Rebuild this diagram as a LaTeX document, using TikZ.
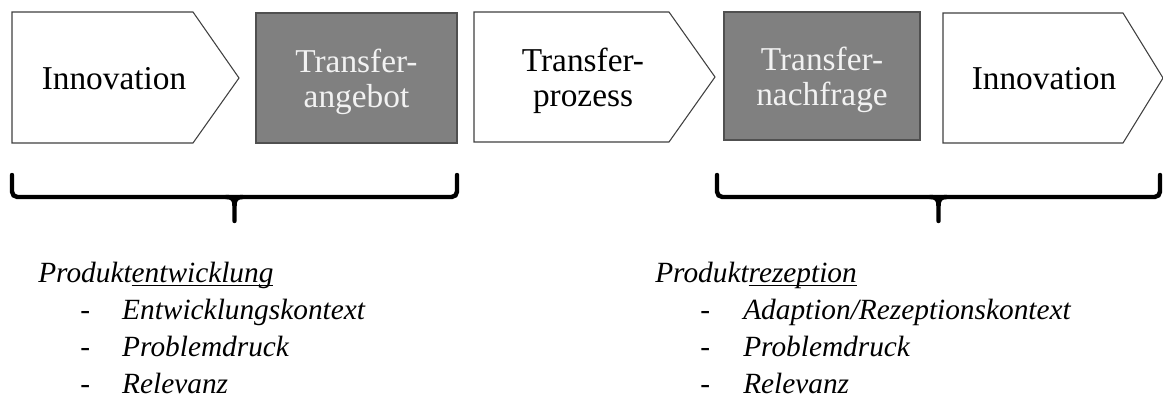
\documentclass[tikz,border=0pt]{standalone}
\usepackage{fontspec}
\setmainfont{Liberation Serif}
\definecolor{boxgray}{RGB}{128,128,128}
\definecolor{boxedge}{RGB}{80,80,80}
\definecolor{chevedge}{RGB}{64,64,64}
\definecolor{boxtext}{RGB}{242,242,242}
\newcommand{\unterstr}[1]{\underline{\smash{#1}}}

\begin{document}
\begin{tikzpicture}[x=0.75pt,y=-0.75pt,
  chevron/.style={draw=chevedge,fill=white,line width=0.8pt,line join=miter},
  stage/.style={font=\fontsize{25}{26}\selectfont,align=center,
    inner sep=0pt,text depth=0pt},
  greybox/.style={stage,draw=boxedge,fill=boxgray,line width=0.9pt,
    text=boxtext},
  bracket/.style={line width=3.3pt,line cap=round,rounded corners=4pt},
  liste/.style={font=\fontsize{22}{22}\selectfont\itshape,anchor=base west,
    inner sep=0pt}]
  \useasboundingbox (0,0) rectangle (1163,398);
  % obere Reihe
  \draw[chevron] (12,12) -- (193,12) -- (239,78) -- (193,143) -- (12,143) -- cycle;
  \node[stage](inno1) at (114,78){Innovation};
  \node[greybox,minimum width=150.75pt,minimum height=97.5pt](angebot)
    at (356.5,78){Transfer-\\angebot};
  \draw[chevron] (474,12) -- (669,12) -- (715,77) -- (669,142) -- (474,142) -- cycle;
  \node[stage](prozess) at (583,77){Transfer-\\prozess};
  \node[greybox,minimum width=147pt,minimum height=96pt](nachfrage)
    at (822,76){Transfer-\\nachfrage};
  \draw[chevron] (943,13) -- (1123,13) -- (1163,78) -- (1123,143) -- (943,143) -- cycle;
  \node[stage](inno2) at (1044,78){Innovation};
  % Klammern
  \coordinate (k1l) at (12,175);
  \coordinate (k1r) at (457,175);
  \coordinate (k1m) at (234.5,221);
  \draw[bracket] (k1l) |- (k1r |- 197,197) -- (k1r);
  \draw[line width=3.3pt,line cap=round] (226,197) .. controls (233,197) and (234.5,200) .. (234.5,206) -- (k1m);
  \draw[line width=3.3pt] (243,197) .. controls (236,197) and (234.5,200) .. (234.5,206);
  \coordinate (k2l) at (717,175);
  \coordinate (k2r) at (1160,175);
  \coordinate (k2m) at (938.5,221);
  \draw[bracket] (k2l) |- (k2r |- 197,197) -- (k2r);
  \draw[line width=3.3pt,line cap=round] (930,197) .. controls (937,197) and (938.5,200) .. (938.5,206) -- (k2m);
  \draw[line width=3.3pt] (947,197) .. controls (940,197) and (938.5,200) .. (938.5,206);
  % Listen
  \node[liste](entw) at (38,283){Produkt\unterstr{entwicklung}};
  \node[liste](entw1) at (80,320){\makebox[31.5pt][l]{-}Entwicklungskontext};
  \node[liste](entw2) at (80,357){\makebox[31.5pt][l]{-}Problemdruck};
  \node[liste](entw3) at (80,394){\makebox[31.5pt][l]{-}Relevanz};
  \node[liste](rez) at (655,283){Produkt\unterstr{rezeption}};
  \node[liste](rez1) at (700,320){\makebox[32.25pt][l]{-}Adaption/Rezeptionskontext};
  \node[liste](rez2) at (700,357){\makebox[32.25pt][l]{-}Problemdruck};
  \node[liste](rez3) at (700,394){\makebox[32.25pt][l]{-}Relevanz};
\end{tikzpicture}
\end{document}
